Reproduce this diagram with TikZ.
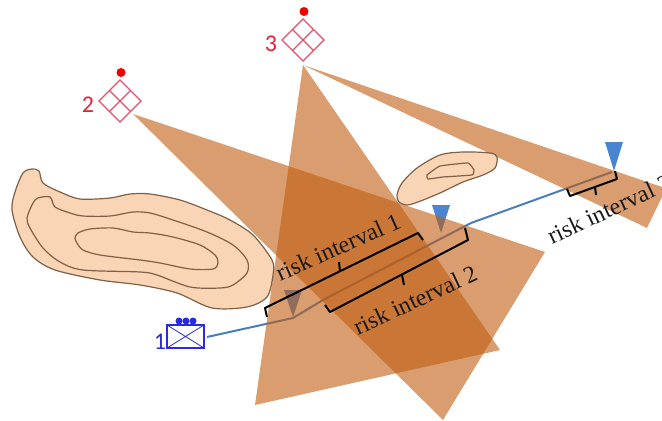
\documentclass[tikz,border=0pt]{standalone}
\usepackage{fontspec}
\setmainfont{Liberation Serif}
\newfontfamily\numfont{Carlito}
\usetikzlibrary{positioning, calc}
\definecolor{zonebrown}{HTML}{C05C10}
\definecolor{hillfill}{HTML}{FAD5B5}
\definecolor{hillline}{HTML}{7F5F45}
\definecolor{radarred}{HTML}{E0506A}
\definecolor{radartext}{HTML}{E8203A}
\definecolor{unitblue}{HTML}{2A2AE0}
\definecolor{routeblue}{HTML}{4A7EBB}
\definecolor{markblue}{HTML}{4A86D0}
\tikzset{
    zone/.style={fill=zonebrown, fill opacity=0.6},
    hill/.style={draw=hillline, line width=0.9pt, fill=hillfill},
    radar/.style={draw=radarred, line width=0.8pt},
    bracket/.style={draw=black, line width=1.5pt, line join=round},
    risklabel/.style={font=\fontsize{18}{18}\selectfont, inner sep=0pt, text=black!90}
}
\begin{document}
\begin{tikzpicture}[x=0.75pt, y=-0.75pt]
    \useasboundingbox (0,0) rectangle (662,421);
    % Rute dan penanda (di bawah zona)
    \coordinate (r0) at (207,337);
    \coordinate (r1) at (293,318);
    \coordinate (r2) at (323,300);
    \coordinate (r3) at (471,223);
    \coordinate (r4) at (612,172);
    \draw[routeblue, line width=1.5pt] (r0) -- (r1) -- (r2) -- (r3) -- (r4);
    \foreach \x/\ytop/\ytip in {293/290/317, 441/205/233, 614/142/171} {
        \fill[markblue] (\x-9,\ytop) -- (\x+9,\ytop) -- (\x,\ytip) -- cycle;
    }
    % Zona
    \fill[zone] (303,65) -- (662,187) -- (662,197) -- (647,228) -- cycle;
    \fill[zone] (133,114) -- (545,252) -- (443,420) -- cycle;
    \fill[zone] (303,65) -- (500,350) -- (255,405) -- cycle;
    % Bukit
    \draw[hill] plot[smooth cycle, tension=0.5] coordinates {
        (12,210) (15,192) (23,173) (32,169) (39,171) (43,183) (60,192) (80,199)
        (110,198) (130,194) (150,194) (180,200) (207,210) (230,220) (253,235)
        (272,260) (273,275) (267,297) (247,307) (212,308) (177,293) (140,285)
        (100,280) (55,270) (33,257) (20,237)};
    \draw[hill] plot[smooth cycle, tension=0.5] coordinates {
        (27,218) (33,203) (38,198) (50,197) (55,207) (70,213) (83,216) (110,216)
        (133,212) (150,213) (173,220) (207,232) (233,245) (247,260) (247,273)
        (233,285) (220,288) (190,287) (157,275) (140,272) (83,270) (60,262)
        (43,248) (30,228)};
    \draw[hill] plot[smooth cycle, tension=0.5] coordinates {
        (75,238) (78,233) (90,229) (113,228) (133,232) (150,233) (173,237) (200,245)
        (215,255) (218,263) (213,269) (190,269) (160,263) (140,260) (100,255)
        (83,250) (77,243)};
    \draw[hill] plot[smooth cycle, tension=0.5] coordinates {
        (397,195) (402,183) (417,168) (440,155) (463,152) (490,153) (497,157)
        (495,168) (483,175) (463,182) (440,193) (418,202) (407,205) (399,202)};
    \draw[hill] plot[smooth cycle, tension=0.2] coordinates {
        (427,175) (440,166) (468,163) (474,170) (472,175) (443,177) (428,179)};
    % Radar 2 dan 3
    \foreach \cx/\cy/\num in {120/101/2, 303/40/3} {
        \draw[radar] (\cx,\cy-21) -- (\cx+21,\cy) -- (\cx,\cy+21) -- (\cx-21,\cy) -- cycle;
        \draw[radar] (\cx-10.5,\cy-10.5) -- (\cx+10.5,\cy+10.5);
        \draw[radar] (\cx+10.5,\cy-10.5) -- (\cx-10.5,\cy+10.5);
        \fill[red!95!black] (\cx+1,\cy-28.5) circle (4.5);
        \node[text=radartext, font=\numfont\fontsize{18}{18}\selectfont] (radar\num) at (\cx-32,\cy+3.5) {\num};
    }
    % Unit 1
    \draw[unitblue, line width=0.9pt] (167,325) rectangle (204,348);
    \draw[unitblue, line width=0.6pt] (167,325) -- (204,348) (204,325) -- (167,348);
    \foreach \x in {179,186,193} {
        \fill[unitblue] (\x,321) circle (3.5);
    }
    \node[text=unitblue, font=\numfont\fontsize{18}{18}\selectfont] (unit1) at (160,342) {1};
    % Kurung interval
    \draw[bracket] (267,317) -- (265,308) -- (418,233) -- (423,240);
    \draw[bracket] (340,271) -- (339,262);
    \draw[bracket] (325,305) -- (330,312) -- (468,240) -- (465,228);
    \draw[bracket] (402,275) -- (404,285);
    \draw[bracket] (567,189) -- (570,196) -- (617,179) -- (615,171);
    \draw[bracket] (595,187) -- (596,195);
    % Label interval
    \node[risklabel, rotate=24] (risk1) at (338,247) {risk interval 1};
    \node[risklabel, rotate=25] (risk2) at (415,300) {risk interval 2};
    \node[risklabel, rotate=25] (risk3) at (609,209) {risk interval 3};
\end{tikzpicture}
\end{document}
